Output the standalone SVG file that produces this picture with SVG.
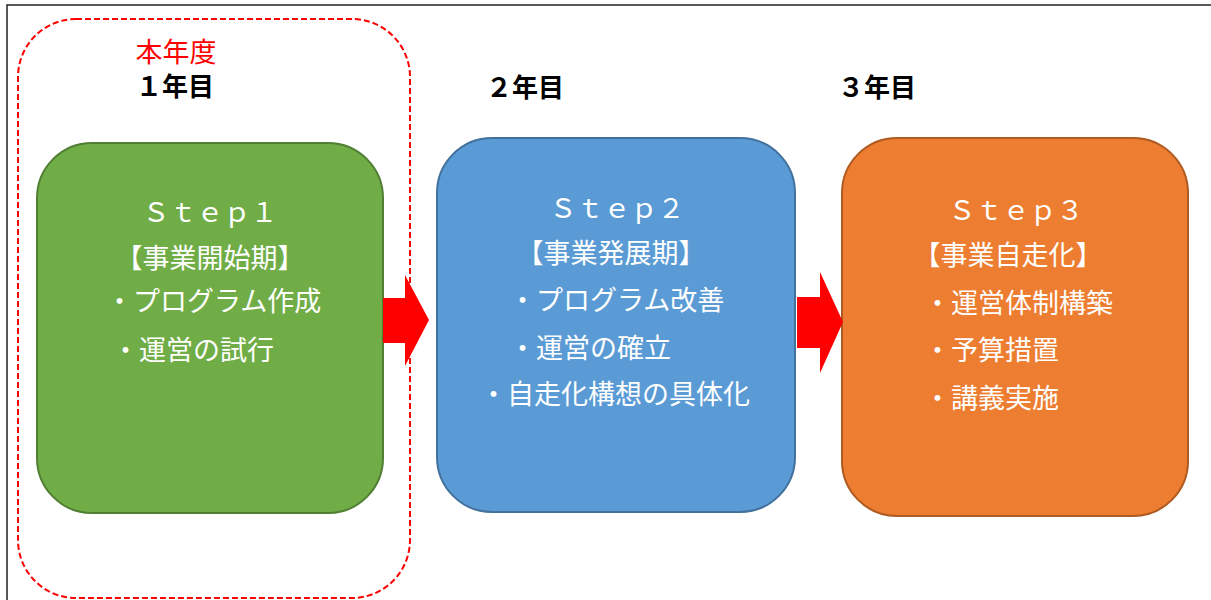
<svg xmlns="http://www.w3.org/2000/svg" width="1211" height="600" viewBox="0 0 1211 600">
<style>
.t{font-family:"Liberation Serif","Noto Sans CJK JP",serif;font-size:27px;fill:#fff}
.h{font-family:"Liberation Serif","Noto Sans CJK JP",serif;font-size:26px;font-weight:bold;fill:#000}
.c{text-anchor:middle}
</style>
<rect x="0" y="0" width="1211" height="600" fill="#fff"/>
<rect x="7" y="5" width="1220" height="610" fill="none" stroke="#222" stroke-width="1.5"/>
<g id="current-year">
<rect x="18" y="19" width="392" height="579" rx="58" fill="none" stroke="#f00" stroke-width="2" stroke-dasharray="6 3"/>
<text x="176" y="62" class="c" style="font-family:'Liberation Serif','Noto Sans CJK JP',serif;font-size:27px;fill:#f00">本年度</text>
<text x="175" y="96" class="h c">１年目</text>
</g>
<g id="year2"><text x="525" y="97" class="h c">２年目</text></g>
<g id="year3"><text x="877" y="97" class="h c">３年目</text></g>
<g id="step1">
<rect x="37" y="143" width="346" height="370" rx="55" fill="#70AD47" stroke="#507E32" stroke-width="2"/>
<text x="210" y="222" class="t c">Ｓｔｅｐ１</text>
<text x="210" y="268" class="t c">【事業開始期】</text>
<text x="106" y="311" class="t">・プログラム作成</text>
<text x="112" y="360" class="t">・運営の試行</text>
</g>
<g id="step2">
<rect x="437" y="138" width="358" height="374" rx="55" fill="#5B9BD5" stroke="#41719C" stroke-width="2"/>
<text x="617" y="218" class="t c">Ｓｔｅｐ２</text>
<text x="611" y="263" class="t c">【事業発展期】</text>
<text x="509" y="310" class="t">・プログラム改善</text>
<text x="509" y="358" class="t">・運営の確立</text>
<text x="480" y="404" class="t">・自走化構想の具体化</text>
</g>
<g id="step3">
<rect x="842" y="138" width="346" height="378" rx="55" fill="#ED7D31" stroke="#AE5A21" stroke-width="2"/>
<text x="1016" y="220" class="t c">Ｓｔｅｐ３</text>
<text x="1008" y="265" class="t c">【事業自走化】</text>
<text x="924" y="313" class="t">・運営体制構築</text>
<text x="924" y="360" class="t">・予算措置</text>
<text x="924" y="408" class="t">・講義実施</text>
</g>
<g id="connectors" fill="#f00">
<polygon points="383,298 405,298 405,275 429,320 405,366 405,343 383,343"/>
<polygon points="797,297 820,297 820,272 843,322 820,373 820,348 797,348"/>
</g>
</svg>
